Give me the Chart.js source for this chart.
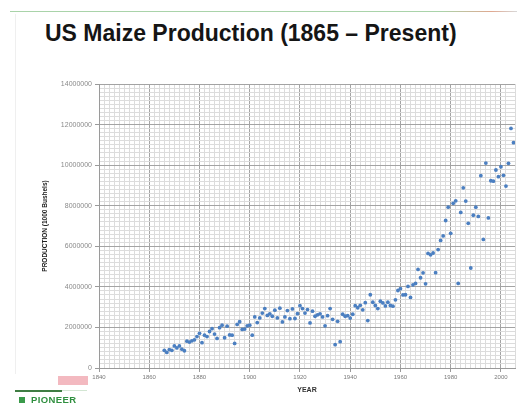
<!DOCTYPE html>
<html><head><meta charset="utf-8">
<script src="https://cdn.jsdelivr.net/npm/chart.js@4.4.0/dist/chart.umd.min.js"></script>
<style>
html,body{margin:0;padding:0;background:#fff;width:517px;height:406px;overflow:hidden;font-family:"Liberation Sans",Arial,sans-serif}
#c{position:absolute;left:0;top:0}
#title{position:absolute;left:45px;top:22px;font-weight:bold;font-size:23px;line-height:23px;color:#151515;white-space:nowrap}
#topline{position:absolute;left:10px;top:11px;width:507px;height:1px;background:linear-gradient(90deg,#a9d3a9 0%,#a9d3a9 85%,#e0a890 95%,#d8d8d8 100%)}
#leftline{position:absolute;left:15px;top:14px;width:1px;height:360px;background:#efefef}
#pink{position:absolute;left:58px;top:376px;width:30px;height:9px;background:#f3b9c0}
#gline{position:absolute;left:15px;top:390px;width:47px;height:2px;background:#3f7d43}
#gline2{position:absolute;left:62px;top:390px;width:25px;height:1px;background:#d3e6d3}
#icon{position:absolute;left:19px;top:397px;width:6px;height:6px;background:#3a9a4a}
#pioneer{position:absolute;left:31px;top:394px;font-weight:bold;font-size:9.5px;line-height:11px;color:#2f8f3f;letter-spacing:0.4px}
</style></head>
<body>
<div id="topline"></div>
<div id="leftline"></div>
<div id="title">US Maize Production (1865 – Present)</div>
<canvas id="c" width="517" height="406"></canvas>
<div id="pink"></div>
<div id="gline"></div><div id="gline2"></div>
<div id="icon"></div>
<div id="pioneer">PIONEER</div>
<script>
const years = [1866,1867,1868,1869,1870,1871,1872,1873,1874,1875,1876,1877,1878,1879,1880,1881,1882,1883,1884,1885,1886,1887,1888,1889,1890,1891,1892,1893,1894,1895,1896,1897,1898,1899,1900,1901,1902,1903,1904,1905,1906,1907,1908,1909,1910,1911,1912,1913,1914,1915,1916,1917,1918,1919,1920,1921,1922,1923,1924,1925,1926,1927,1928,1929,1930,1931,1932,1933,1934,1935,1936,1937,1938,1939,1940,1941,1942,1943,1944,1945,1946,1947,1948,1949,1950,1951,1952,1953,1954,1955,1956,1957,1958,1959,1960,1961,1962,1963,1964,1965,1966,1967,1968,1969,1970,1971,1972,1973,1974,1975,1976,1977,1978,1979,1980,1981,1982,1983,1984,1985,1986,1987,1988,1989,1990,1991,1992,1993,1994,1995,1996,1997,1998,1999,2000,2001,2002,2003,2004,2005];
const production = [870000,770000,910000,870000,1090000,990000,1090000,930000,850000,1320000,1280000,1340000,1390000,1550000,1710000,1250000,1620000,1550000,1800000,1940000,1670000,1460000,1990000,2110000,1490000,2060000,1630000,1620000,1210000,2150000,2280000,1900000,1920000,2080000,2110000,1620000,2520000,2240000,2470000,2710000,2930000,2590000,2670000,2550000,2850000,2470000,2950000,2270000,2520000,2830000,2430000,2910000,2440000,2680000,3070000,2930000,2710000,2880000,2220000,2800000,2550000,2620000,2670000,2520000,2080000,2580000,2930000,2400000,1150000,2300000,1300000,2650000,2550000,2580000,2460000,2650000,3070000,2970000,3090000,2870000,3220000,2340000,3610000,3240000,3080000,2930000,3290000,3210000,3060000,3240000,3080000,3050000,3360000,3820000,3910000,3600000,3610000,4020000,3480000,4100000,4170000,4860000,4450000,4690000,4150000,5650000,5580000,5670000,4700000,5840000,6290000,6510000,7270000,7930000,6640000,8120000,8240000,4170000,7670000,8880000,8230000,7130000,4930000,7530000,7930000,7470000,9480000,6340000,10100000,7400000,9230000,9210000,9760000,9430000,9920000,9500000,8970000,10090000,11810000,11110000];
const yTickLabels = ['0','2000000','4000000','6000000','8000000','10000000','12000000','14000000'];
const xTickLabels = ['1840','1860','1880','1900','1920','1940','1960','1980','2000'];

const points = years.map((y, i) => ({x: y, y: production[i]}));
const majorGrid = '#a3a3a3', minorGrid = '#dcdcdc';

new Chart(document.getElementById('c'), {
  type: 'scatter',
  data: { datasets: [{
    label: 'Production',
    data: points,
    backgroundColor: '#4b7fc1',
    borderWidth: 0,
    pointRadius: 1.9,
    pointHoverRadius: 1.9
  }]},
  options: {
    responsive: false,
    devicePixelRatio: 1,
    animation: false,
    layout: { padding: { top: 84, left: 0, right: 0, bottom: 0 } },
    plugins: { legend: { display: false }, tooltip: { enabled: false } },
    scales: {
      x: {
        type: 'linear', min: 1840, max: 2005.6,
        afterFit: s => { s.height = 38; },
        border: { color: '#9a9a9a', width: 1 },
        grid: {
          color: c => (c.tick && Math.abs(c.tick.value % 20) < 1e-6) ? majorGrid : minorGrid,
          tickColor: c => (c.tick && Math.abs(c.tick.value % 20) < 1e-6) ? '#9a9a9a' : 'rgba(0,0,0,0)',
          tickLength: 4, lineWidth: 1
        },
        ticks: {
          stepSize: 2, autoSkip: false, maxRotation: 0, padding: 2,
          color: '#7a7a7a', font: { size: 6, family: 'Liberation Sans' },
          callback: v => xTickLabels.includes(String(v)) ? String(v) : ''
        },
        title: { display: true, text: 'YEAR', color: '#333', font: { size: 7, weight: 'bold', family: 'Liberation Sans' }, padding: { top: 0, bottom: 12 } }
      },
      y: {
        min: 0, max: 14000000,
        afterFit: s => { s.width = 99; },
        border: { color: '#9a9a9a', width: 1 },
        grid: {
          color: c => (c.tick && c.tick.value % 2000000 === 0) ? majorGrid : minorGrid,
          tickColor: c => (c.tick && c.tick.value % 2000000 === 0) ? '#9a9a9a' : 'rgba(0,0,0,0)',
          tickLength: 4, lineWidth: 1
        },
        ticks: {
          stepSize: 200000, autoSkip: false, padding: 3,
          color: '#8a8a8a', font: { size: 7, family: 'Liberation Sans' },
          callback: v => yTickLabels.includes(String(v)) ? String(v) : ''
        },
        title: { display: true, text: 'PRODUCTION (1000 Bushels)', color: '#222', font: { size: 6.5, weight: 'bold', family: 'Liberation Sans' }, padding: { top: 41, bottom: 0 } }
      }
    }
  }
});
</script>
</body></html>
